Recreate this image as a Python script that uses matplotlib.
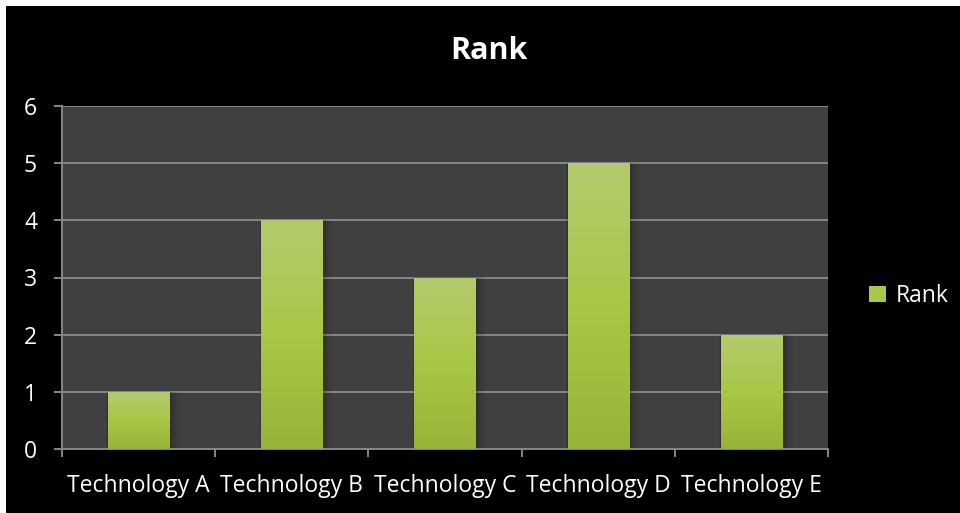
import numpy as np
import matplotlib
matplotlib.use("Agg")
import matplotlib.pyplot as plt
from matplotlib.patches import Rectangle, Patch
from matplotlib.colors import LinearSegmentedColormap

categories = ["Technology A", "Technology B", "Technology C", "Technology D", "Technology E"]
rank = [1, 4, 3, 5, 2]
series_name = "Rank"

plt.rcParams['font.family'] = ['Open Sans', 'DejaVu Sans']

fig = plt.figure(figsize=(9.6, 5.13), dpi=100, facecolor='white')
# black chart area, white strip on top and left
fig.patches.append(Rectangle((6 / 960, 0), 1, 507 / 513, transform=fig.transFigure,
                             facecolor='black', edgecolor='none', zorder=-10))

ax = fig.add_axes([62 / 960, 1 - 449 / 513, (828 - 62) / 960, (449 - 106) / 513])
ax.set_facecolor('#404040')

x = np.arange(len(categories))
bars = ax.bar(x, rank, width=0.4, color='#a8c450', zorder=3)

# soft shadow + vertical gradient on each bar
grad = LinearSegmentedColormap.from_list('g', ['#98b438', '#a9c746', '#b3cb6e'])
for b in bars:
    for k, a in enumerate([0.10, 0.07, 0.04]):
        off = 0.012 * (k + 1)
        ax.add_patch(Rectangle((b.get_x() - off * 0.3, 0), b.get_width() + off * 2.2, b.get_height() + off * 0.15,
                               facecolor='black', alpha=a, edgecolor='none', zorder=2))
    im = ax.imshow(np.linspace(0, 1, 100).reshape(-1, 1), cmap=grad, origin='lower',
                   extent=[b.get_x(), b.get_x() + b.get_width(), 0, b.get_height()],
                   aspect='auto', zorder=4)
    im.set_clip_path(b)

ax.set_xlim(-0.5, len(categories) - 0.5)
ax.set_ylim(0, 6)
ax.set_yticks(range(0, 7))

ax.set_xticks(np.arange(-0.5, len(categories), 1))
ax.set_xticklabels([])
ax.set_xticks(x, minor=True)
ax.set_xticklabels(categories, minor=True)

gc = '#868686'
ax.yaxis.grid(True, color=gc, lw=1.4, zorder=1)
ax.set_axisbelow(True)
for s in ['top', 'right']:
    ax.spines[s].set_visible(False)
for s in ['left', 'bottom']:
    ax.spines[s].set_color(gc)
    ax.spines[s].set_linewidth(1.4)

ax.tick_params(axis='both', which='major', direction='out', length=6, width=1.4, color=gc,
               labelcolor='white', labelsize=16.5)
ax.tick_params(axis='y', pad=12)
ax.tick_params(axis='x', which='minor', length=0, pad=18, labelcolor='white', labelsize=16.5)

fig.text(489 / 960, 1 - 51 / 513, "Rank", ha='center', va='center', fontsize=22,
         fontweight='bold', color='white')

handle = Patch(facecolor='#a9c64c', edgecolor='none')
leg = fig.legend([handle], [series_name], loc='center left', bbox_to_anchor=(869 / 960, 1 - 296 / 513),
                 frameon=False, fontsize=16.5, labelcolor='white', handlelength=0.75,
                 handleheight=0.75, handletextpad=0.4, borderpad=0, borderaxespad=0)

fig.savefig("out.png", dpi=100, facecolor=fig.get_facecolor())
